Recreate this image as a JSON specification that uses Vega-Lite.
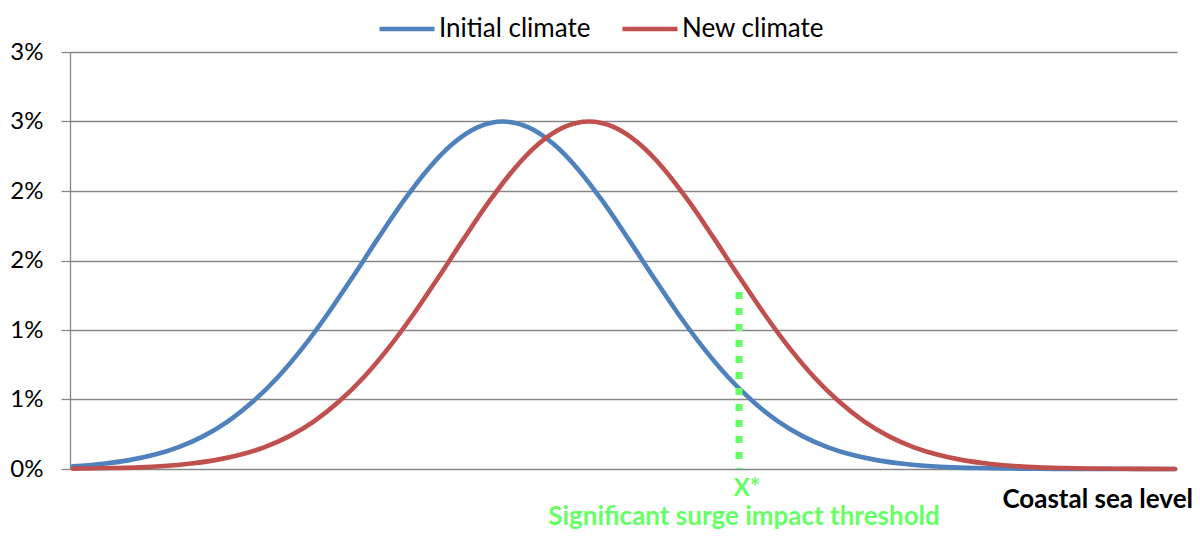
{
  "$schema": "https://vega.github.io/schema/vega-lite/v6.json",
  "width": 1107,
  "height": 417,
  "autosize": {"type": "none"},
  "padding": {"left": 70, "top": 52, "right": 23, "bottom": 72},
  "background": "white",
  "config": {"view": {"stroke": null}, "font": "Lato"},
  "datasets": {
    "curves": [
      {"series": "Initial climate", "x": 3, "y": 0.000195},
      {"series": "Initial climate", "x": 8, "y": 0.00022},
      {"series": "Initial climate", "x": 33, "y": 0.00038},
      {"series": "Initial climate", "x": 58, "y": 0.00062},
      {"series": "Initial climate", "x": 83, "y": 0.001},
      {"series": "Initial climate", "x": 108, "y": 0.00156},
      {"series": "Initial climate", "x": 133, "y": 0.00235},
      {"series": "Initial climate", "x": 158, "y": 0.00343},
      {"series": "Initial climate", "x": 183, "y": 0.00485},
      {"series": "Initial climate", "x": 208, "y": 0.00662},
      {"series": "Initial climate", "x": 233, "y": 0.00875},
      {"series": "Initial climate", "x": 258, "y": 0.01119},
      {"series": "Initial climate", "x": 283, "y": 0.01385},
      {"series": "Initial climate", "x": 308, "y": 0.01659},
      {"series": "Initial climate", "x": 333, "y": 0.01923},
      {"series": "Initial climate", "x": 358, "y": 0.02157},
      {"series": "Initial climate", "x": 383, "y": 0.02341},
      {"series": "Initial climate", "x": 408, "y": 0.02459},
      {"series": "Initial climate", "x": 433, "y": 0.025},
      {"series": "Initial climate", "x": 458, "y": 0.02459},
      {"series": "Initial climate", "x": 483, "y": 0.02341},
      {"series": "Initial climate", "x": 508, "y": 0.02157},
      {"series": "Initial climate", "x": 533, "y": 0.01923},
      {"series": "Initial climate", "x": 558, "y": 0.01659},
      {"series": "Initial climate", "x": 583, "y": 0.01385},
      {"series": "Initial climate", "x": 608, "y": 0.01119},
      {"series": "Initial climate", "x": 633, "y": 0.00875},
      {"series": "Initial climate", "x": 658, "y": 0.00662},
      {"series": "Initial climate", "x": 683, "y": 0.00485},
      {"series": "Initial climate", "x": 708, "y": 0.00343},
      {"series": "Initial climate", "x": 733, "y": 0.00235},
      {"series": "Initial climate", "x": 758, "y": 0.00156},
      {"series": "Initial climate", "x": 783, "y": 0.001},
      {"series": "Initial climate", "x": 808, "y": 0.00062},
      {"series": "Initial climate", "x": 833, "y": 0.00038},
      {"series": "Initial climate", "x": 858, "y": 0.00022},
      {"series": "Initial climate", "x": 883, "y": 0.00012},
      {"series": "Initial climate", "x": 908, "y": 0.00007},
      {"series": "Initial climate", "x": 933, "y": 0.00004},
      {"series": "Initial climate", "x": 958, "y": 0.00002},
      {"series": "Initial climate", "x": 983, "y": 0.00001},
      {"series": "Initial climate", "x": 1033, "y": 0},
      {"series": "Initial climate", "x": 1105, "y": 0},
      {"series": "New climate", "x": 3, "y": 0.000023},
      {"series": "New climate", "x": 19, "y": 0.00004},
      {"series": "New climate", "x": 44, "y": 0.00007},
      {"series": "New climate", "x": 69, "y": 0.00012},
      {"series": "New climate", "x": 94, "y": 0.00022},
      {"series": "New climate", "x": 119, "y": 0.00038},
      {"series": "New climate", "x": 144, "y": 0.00062},
      {"series": "New climate", "x": 169, "y": 0.001},
      {"series": "New climate", "x": 194, "y": 0.00156},
      {"series": "New climate", "x": 219, "y": 0.00235},
      {"series": "New climate", "x": 244, "y": 0.00343},
      {"series": "New climate", "x": 269, "y": 0.00485},
      {"series": "New climate", "x": 294, "y": 0.00662},
      {"series": "New climate", "x": 319, "y": 0.00875},
      {"series": "New climate", "x": 344, "y": 0.01119},
      {"series": "New climate", "x": 369, "y": 0.01385},
      {"series": "New climate", "x": 394, "y": 0.01659},
      {"series": "New climate", "x": 419, "y": 0.01923},
      {"series": "New climate", "x": 444, "y": 0.02157},
      {"series": "New climate", "x": 469, "y": 0.02341},
      {"series": "New climate", "x": 494, "y": 0.02459},
      {"series": "New climate", "x": 519, "y": 0.025},
      {"series": "New climate", "x": 544, "y": 0.02459},
      {"series": "New climate", "x": 569, "y": 0.02341},
      {"series": "New climate", "x": 594, "y": 0.02157},
      {"series": "New climate", "x": 619, "y": 0.01923},
      {"series": "New climate", "x": 644, "y": 0.01659},
      {"series": "New climate", "x": 669, "y": 0.01385},
      {"series": "New climate", "x": 694, "y": 0.01119},
      {"series": "New climate", "x": 719, "y": 0.00875},
      {"series": "New climate", "x": 744, "y": 0.00662},
      {"series": "New climate", "x": 769, "y": 0.00485},
      {"series": "New climate", "x": 794, "y": 0.00343},
      {"series": "New climate", "x": 819, "y": 0.00235},
      {"series": "New climate", "x": 844, "y": 0.00156},
      {"series": "New climate", "x": 869, "y": 0.001},
      {"series": "New climate", "x": 894, "y": 0.00062},
      {"series": "New climate", "x": 919, "y": 0.00038},
      {"series": "New climate", "x": 944, "y": 0.00022},
      {"series": "New climate", "x": 969, "y": 0.00012},
      {"series": "New climate", "x": 994, "y": 0.00007},
      {"series": "New climate", "x": 1019, "y": 0.00004},
      {"series": "New climate", "x": 1044, "y": 0.00002},
      {"series": "New climate", "x": 1069, "y": 0.00001},
      {"series": "New climate", "x": 1105, "y": 0}
    ],
    "threshold": [
      {"x": 669, "top": 0.01273, "bottom": 0, "label": "X*", "caption": "Significant surge impact threshold"}
    ],
    "axisTitle": [
      {"x": 1123, "label": "Coastal sea level"}
    ]
  },
  "layer": [
    {
      "data": {"name": "curves"},
      "mark": {"type": "line", "strokeWidth": 4.6, "interpolate": "monotone", "strokeCap": "round"},
      "encoding": {
        "x": {"field": "x", "type": "quantitative", "scale": {"domain": [0, 1107], "nice": false, "zero": false}, "axis": null},
        "y": {
          "field": "y", "type": "quantitative",
          "scale": {"domain": [0, 0.03], "nice": false},
          "axis": {
            "title": null,
            "values": [0, 0.005, 0.01, 0.015, 0.02, 0.025, 0.03],
            "labelExpr": "round(datum.value * 100 + 0.001) + '%'",
            "labelFontSize": 24,
            "labelColor": "#000000",
            "labelPadding": 18,
            "tickSize": 9,
            "tickColor": "#868686",
            "tickWidth": 1.3,
            "domainColor": "#868686",
            "domainWidth": 1.3,
            "grid": true,
            "gridColor": "#868686",
            "gridWidth": 1.3
          }
        },
        "color": {
          "field": "series", "type": "nominal",
          "scale": {"domain": ["Initial climate", "New climate"], "range": ["#4F81BD", "#C0504D"]},
          "legend": {
            "title": null,
            "orient": "none",
            "direction": "horizontal",
            "legendX": 307,
            "legendY": -53,
            "symbolType": "stroke",
            "symbolSize": 3025,
            "symbolStrokeWidth": 4.6,
            "labelFontSize": 26,
            "labelColor": "#000000",
            "labelOffset": 2,
            "columnPadding": 22,
            "labelLimit": 400
          }
        }
      }
    },
    {
      "data": {"name": "threshold"},
      "mark": {"type": "rule", "color": "#66FF66", "strokeWidth": 7, "strokeDash": [7, 9]},
      "encoding": {
        "x": {"field": "x", "type": "quantitative"},
        "y": {"field": "top", "type": "quantitative"},
        "y2": {"field": "bottom"}
      }
    },
    {
      "data": {"name": "threshold"},
      "mark": {"type": "text", "color": "#66FF66", "fontWeight": "bold", "fontSize": 24, "baseline": "alphabetic", "dy": 27, "dx": 8},
      "encoding": {
        "x": {"field": "x", "type": "quantitative"},
        "y": {"datum": 0},
        "text": {"field": "label"}
      }
    },
    {
      "data": {"name": "threshold"},
      "mark": {"type": "text", "color": "#66FF66", "fontWeight": "bold", "fontSize": 26, "baseline": "alphabetic", "dy": 56, "dx": 5},
      "encoding": {
        "x": {"field": "x", "type": "quantitative"},
        "y": {"datum": 0},
        "text": {"field": "caption"}
      }
    },
    {
      "data": {"name": "axisTitle"},
      "mark": {"type": "text", "color": "#000000", "fontWeight": "bold", "fontSize": 26, "baseline": "alphabetic", "align": "right", "dy": 39},
      "encoding": {
        "x": {"field": "x", "type": "quantitative"},
        "y": {"datum": 0},
        "text": {"field": "label"}
      }
    }
  ]
}
